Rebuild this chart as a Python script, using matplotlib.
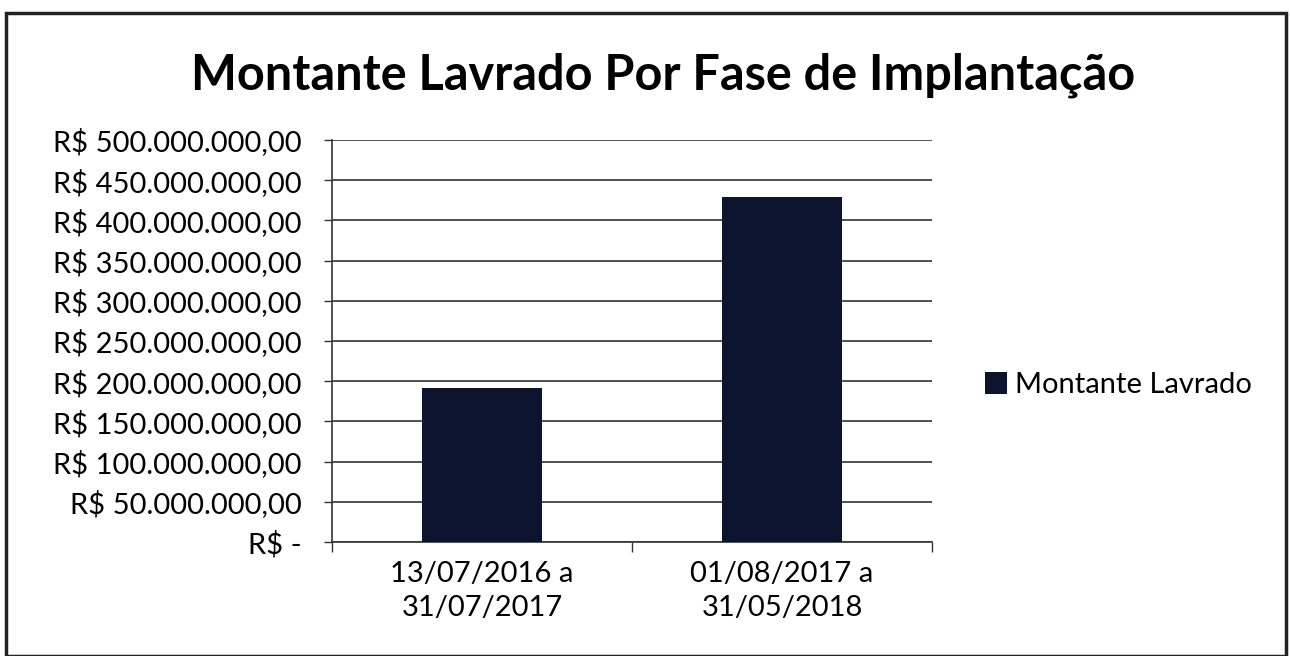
import numpy as np
from matplotlib import pyplot as plt
from matplotlib.patches import Rectangle
from matplotlib.ticker import FixedLocator

plt.rcParams['font.family'] = ['Lato', 'DejaVu Sans']

categories = ['13/07/2016 a\n31/07/2017', '01/08/2017 a\n31/05/2018']
montante = [191500000, 429000000]
yticks = np.arange(0, 500000001, 50000000)


def brl(v):
    if v == 0:
        return 'R$ -'
    s = f'{v:,.2f}'
    s = s.replace(',', 'X').replace('.', ',').replace('X', '.')
    return 'R$ ' + s


fig = plt.figure(figsize=(12.9, 6.56), dpi=100)
ax = fig.add_axes([0.2574, 0.1738, 0.4651, 0.6128])

x = np.arange(len(categories))
ax.bar(x, montante, width=0.4, color='#0d1430', label='Montante Lavrado', zorder=3)

ax.set_xlim(-0.5, len(categories) - 0.5)
ax.set_ylim(0, 500000000)
ax.set_yticks(yticks)
ax.set_yticklabels([brl(v) for v in yticks], fontsize=21)
ax.yaxis.grid(True, color='#333333', lw=1.2, zorder=0)
ax.set_xticks(x)
ax.set_xticklabels(categories, fontsize=21, linespacing=1.35)
ax.xaxis.set_minor_locator(FixedLocator([-0.5, 0.5, 1.5]))
ax.tick_params(axis='x', which='major', length=0, pad=14)
ax.tick_params(axis='x', which='minor', length=7, width=1, color='#333333')
ax.tick_params(axis='y', length=6, width=1, color='#333333', pad=16)
for side in ['top', 'right']:
    ax.spines[side].set_visible(False)
for side in ['left', 'bottom']:
    ax.spines[side].set_color('#333333')
    ax.spines[side].set_linewidth(1.2)

fig.text(0.514, 0.885, 'Montante Lavrado Por Fase de Implantação',
         ha='center', va='center', fontsize=35, fontweight='bold')

fig.legend(loc='center left', bbox_to_anchor=(0.743, 0.413), frameon=False,
           fontsize=21, handlelength=0.75, handleheight=0.75, handletextpad=0.3)

# moldura da figura
fig.patches.append(Rectangle((0.005, 0.0), 0.992, 0.98, transform=fig.transFigure,
                             fill=False, edgecolor='#222222', lw=2.5))

fig.savefig('out.png', dpi=100)
